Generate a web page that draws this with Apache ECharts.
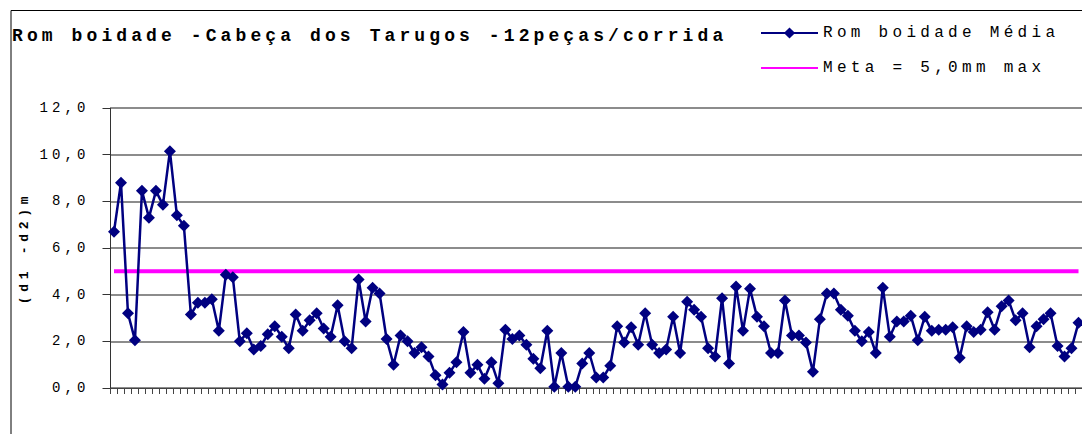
<!DOCTYPE html>
<html>
<head>
<meta charset="utf-8">
<title>Romboidade - Cabeça dos Tarugos</title>
<script src="https://cdn.jsdelivr.net/npm/echarts@6/dist/echarts.min.js"></script>
<style>
  html, body { margin: 0; padding: 0; background: #fff; }
  #chart { width: 1082px; height: 434px; }
  /* the source chart spaces its letters out wide */
  #chart text[style*="18px"] { letter-spacing: 4.1px; }
  #chart text[style*="16px"] { letter-spacing: 4.3px; }
  #chart text[style*="14px"] { letter-spacing: 4.1px; }
  #chart text[style*="13px"] { letter-spacing: 4.7px; }
</style>
</head>
<body>
<div id="chart"></div>
<script>
const FONT = "'Liberation Mono', 'DejaVu Sans Mono', monospace";

const titleText = "Rom boidade -Cabeça dos Tarugos -12peças/corrida";
const yName = "(d1 -d2)m";
const seriesNames = ["Rom boidade Média", "Meta = 5,0mm max"];

// average romboidity per run
const romboidade = [
  6.7, 8.8, 3.2, 2.05, 8.45, 7.3, 8.45, 7.85, 10.15, 7.4,
  6.95, 3.15, 3.65, 3.65, 3.8, 2.45, 4.85, 4.75, 2.0, 2.35,
  1.65, 1.8, 2.3, 2.65, 2.2, 1.7, 3.15, 2.45, 2.9, 3.2,
  2.55, 2.2, 3.55, 2.0, 1.7, 4.65, 2.85, 4.3, 4.05, 2.1,
  1.0, 2.25, 2.0, 1.5, 1.75, 1.35, 0.55, 0.15, 0.65, 1.1,
  2.4, 0.65, 1.0, 0.4, 1.1, 0.2, 2.5, 2.1, 2.25, 1.85,
  1.25, 0.85, 2.45, 0.05, 1.5, 0.05, 0.05, 1.05, 1.5, 0.45,
  0.45, 0.95, 2.65, 1.95, 2.6, 1.85, 3.2, 1.85, 1.5, 1.65,
  3.05, 1.5, 3.7, 3.35, 3.05, 1.7, 1.35, 3.85, 1.05, 4.35,
  2.45, 4.25, 3.05, 2.65, 1.5, 1.5, 3.75, 2.25, 2.25, 1.95,
  0.7, 2.95, 4.05, 4.05, 3.35, 3.1, 2.45, 2.0, 2.4, 1.5,
  4.3, 2.2, 2.85, 2.85, 3.1, 2.05, 3.05, 2.45, 2.5, 2.5,
  2.6, 1.3, 2.65, 2.4, 2.5, 3.25, 2.5, 3.5, 3.75, 2.9,
  3.2, 1.75, 2.65, 2.95, 3.2, 1.8, 1.35, 1.7, 2.8
];

const META = 5.0;

// one category per run (no labels shown on the axis)
const categories = romboidade.map((_, i) => String(i + 1));
const metaLine = categories.map(() => META);

const chart = echarts.init(document.getElementById("chart"), null, { renderer: "svg" });

chart.setOption({
  animation: false,
  backgroundColor: "#fff",
  title: {
    text: titleText,
    left: 12,
    top: 27,
    padding: 0,
    textStyle: { fontFamily: FONT, fontSize: 18, fontWeight: "bold", color: "#000" },
  },
  legend: {
    orient: "vertical",
    left: 760,
    top: 25,
    padding: 0,
    itemWidth: 57,
    itemHeight: 14,
    itemGap: 19,
    data: [
      { name: seriesNames[0] },
      // target line: legend shows only the line, no marker
      { name: seriesNames[1], itemStyle: { opacity: 0 } },
    ],
    textStyle: { fontFamily: FONT, fontSize: 16, color: "#000" },
  },
  grid: { left: 110.5, right: 0, top: 108, bottom: 46, containLabel: false, outerBoundsMode: "none" },
  xAxis: {
    type: "category",
    data: categories,
    boundaryGap: true,
    axisLine: { lineStyle: { color: "#444", width: 1 } },
    axisTick: { show: true, interval: 0, length: 6, lineStyle: { color: "#444" } },
    axisLabel: { show: false },
    splitLine: { show: false },
  },
  yAxis: {
    type: "value",
    min: 0,
    max: 12,
    interval: 2,
    name: yName,
    nameLocation: "middle",
    nameRotate: 90,
    nameGap: 80,
    nameTextStyle: { fontFamily: FONT, fontSize: 13, fontWeight: "bold", color: "#000" },
    axisLine: { show: true, lineStyle: { color: "#333", width: 1 } },
    axisTick: { show: true, length: 8, lineStyle: { color: "#333" } },
    axisLabel: {
      margin: 21,
      fontFamily: FONT,
      fontSize: 14,
      color: "#000",
      formatter: (v) => v.toFixed(1).replace(".", ","),
    },
    splitLine: { show: true, lineStyle: { color: "#666", width: 1.5 } },
  },
  graphic: [
    {
      type: "rect",
      silent: true,
      z: -10,
      shape: { x: 11, y: 10.5, width: 1200, height: 600 },
      style: { fill: "none", stroke: "#000", lineWidth: 1 },
    },
  ],
  series: [
    {
      name: seriesNames[0],
      type: "line",
      data: romboidade,
      symbol: "diamond",
      symbolSize: 12,
      showSymbol: true,
      showAllSymbol: true,
      z: 3,
      lineStyle: { color: "#000080", width: 2.5 },
      itemStyle: { color: "#000080" },
    },
    {
      name: seriesNames[1],
      type: "line",
      data: metaLine,
      symbol: "none",
      z: 2,
      lineStyle: { color: "#ff00ff", width: 4 },
      itemStyle: { color: "#ff00ff" },
    },
  ],
});
</script>
</body>
</html>
